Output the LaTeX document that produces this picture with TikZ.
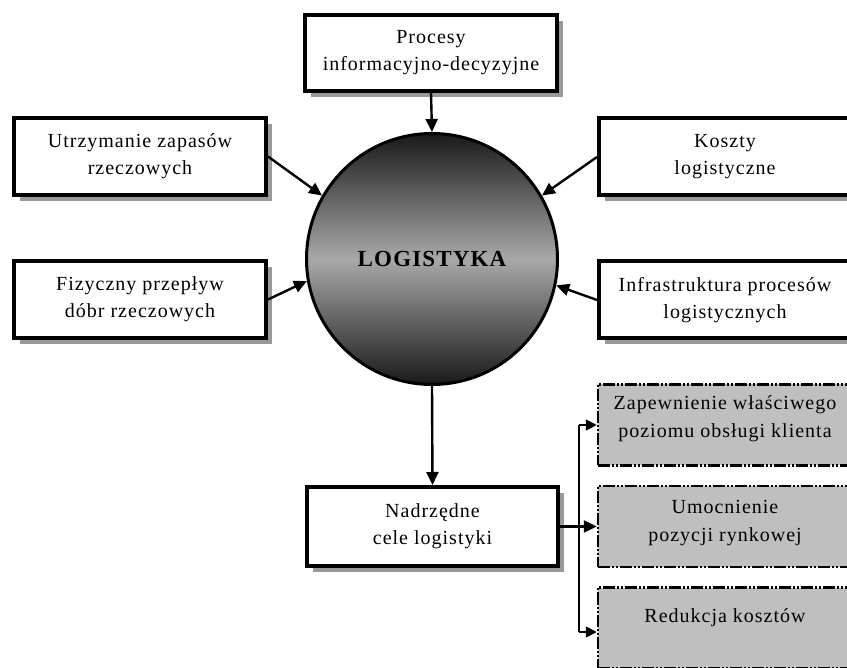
\documentclass[tikz,border=0pt]{standalone}
\usepackage{fontspec}
\setmainfont{Liberation Serif}[LetterSpace=5]
\usetikzlibrary{arrows.meta,shadows}
\begin{document}
\begin{tikzpicture}[x=1pt,y=-1pt,
  box/.style={draw=black, line width=4pt, fill=white, minimum width=252pt, minimum height=77pt,
    align=center, inner sep=0pt, font=\fontsize{20}{27}\selectfont,
    drop shadow={shadow xshift=6pt, shadow yshift=-6pt, fill=black!40, opacity=1}},
  goal/.style={draw=black, line width=2.5pt, fill=black!25,
    dash pattern=on 12pt off 2pt on 2pt off 2pt on 2pt off 2pt,
    minimum width=254pt, minimum height=81pt, align=center, inner sep=0pt},
  txt/.style={align=center, inner sep=0pt, font=\fontsize{20}{28}\selectfont},
  arr/.style={line width=2.4pt, -{Triangle[length=13pt,width=12pt]}},
  thinarr/.style={line width=1.8pt, -{Triangle[length=11pt,width=11pt]}}]
\fill[white] (0,0) rectangle (847,668);
\clip (0,0) rectangle (847,668);
% circle
\node[circle, draw=black, line width=3pt, minimum size=251pt, inner sep=0pt,
  top color=black!90, bottom color=black!90, middle color=black!34,
  font=\fontsize{23}{28}\selectfont\bfseries] (c) at (432,259) {LOGISTYKA};
% boxes
\node[box, minimum height=76pt] (top) at (431,53) {Procesy\\informacyjno-decyzyjne};
\node[box] (lt) at (140,156.5) {Utrzymanie zapasów\\rzeczowych};
\node[box] (lb) at (140,299.5) {Fizyczny przepływ\\dóbr rzeczowych};
\node[box] (rt) at (725,157) {Koszty\\logistyczne};
\node[box] (rb) at (725,300) {Infrastruktura procesów\\logistycznych};
\node[box, minimum width=251pt, minimum height=79pt] (nad) at (432.5,526.5) {Nadrzędne\\cele logistyki};
% goals
\node[goal] (g1) at (725,425) {};
\node[txt] (g1t) at (725,419) {Zapewnienie właściwego\\poziomu obsługi klienta};
\node[goal] (g2) at (725,526.5) {};
\node[txt] (g2t) at (725,523) {Umocnienie\\pozycji rynkowej};
\node[goal] (g3) at (725,628) {};
\node[txt] (g3t) at (725,618) {Redukcja kosztów};
% connectors
\draw[arr] (top.south) -- (c.north);
\draw[arr] (lt.east) -- (c.150);
\draw[arr] (lb.east) -- (c.190);
\draw[arr] (rt.west) -- (c.30);
\draw[arr] (rb.west) -- (c.-12);
\draw[arr] (c.south) -- (nad.north);
\draw[arr] (nad.east) -- (g2.west);
\coordinate (b1) at (579,425);
\coordinate (b3) at (579,632);
\draw[line width=1.8pt] (b1) -- (b3);
\draw[thinarr] (b1) -- (g1.west);
\draw[thinarr] (b3) -- (g3.west |- b3);
\end{tikzpicture}
\end{document}
